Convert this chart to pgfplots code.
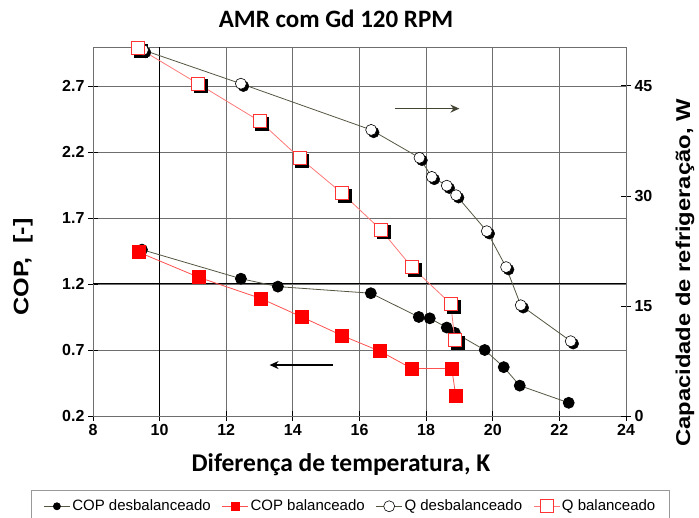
\documentclass[border=0pt]{standalone}
\usepackage{fontspec}
\setmainfont{Liberation Sans}
\newfontfamily\calibri{Carlito}
\usepackage{pgfplots}
\pgfplotsset{compat=1.18}
\usetikzlibrary{arrows.meta}
\definecolor{olivegray}{RGB}{85,85,65}
\definecolor{redline}{RGB}{255,80,80}
\definecolor{lightred}{RGB}{255,120,120}
\definecolor{redmark}{RGB}{255,0,0}
\definecolor{gridgray}{RGB}{110,110,110}

\pgfplotstableread{
x y
9.47 1.46
12.44 1.24
13.55 1.18
16.34 1.13
17.78 0.95
18.11 0.94
18.62 0.87
18.86 0.83
19.76 0.70
20.33 0.57
20.81 0.43
22.28 0.30
}\copdes
\pgfplotstableread{
x y
9.38 1.44
11.18 1.25
13.04 1.09
14.27 0.95
15.47 0.81
16.62 0.69
17.57 0.56
18.77 0.56
18.89 0.35
}\copbal
\pgfplotstableread{
x y
9.50 49.9
12.44 45.3
16.35 39.0
17.80 35.2
18.17 32.6
18.62 31.4
18.90 30.1
19.82 25.2
20.40 20.3
20.84 15.1
22.34 10.2
}\qdes
\pgfplotstableread{
x y
9.35 50.2
11.15 45.3
13.00 40.2
14.20 35.2
15.47 30.4
16.64 25.4
17.57 20.3
18.74 15.3
18.86 10.4
}\qbal

\pgfplotsset{
  copdstyle/.style={olivegray, line width=0.8pt, mark=*, mark size=5.5pt, mark options={fill=black, draw=black}},
  copbstyle/.style={redline, line width=0.8pt, mark=square*, mark size=6.5pt, mark options={fill=redmark, draw=redmark}},
  qdstyle/.style={olivegray, line width=0.8pt, mark=*, mark size=5.5pt, mark options={fill=white, draw=black, line width=0.6pt}},
  qbstyle/.style={lightred, line width=0.8pt, mark=square*, mark size=6.5pt, mark options={fill=white, draw=redmark!80, line width=0.6pt}},
}

\begin{document}
\begin{tikzpicture}[x=1pt,y=1pt]
\useasboundingbox (0,0) rectangle (699,517);
\begin{axis}[
  at={(93pt,101pt)}, anchor=south west,
  width=533pt, height=369pt, scale only axis,
  xmin=8, xmax=24, ymin=0.2, ymax=2.995,
  xtick={8,10,...,24}, ytick={0.2,0.7,1.2,1.7,2.2,2.7},
  grid=major, grid style={draw=gridgray, line width=0.8pt},
  axis line style={draw=gridgray, line width=0.8pt},
  tick style={black, line width=0.8pt}, tick align=center, major tick length=10pt,
  xtick pos=bottom, ytick pos=left,
  ticklabel style={font=\bfseries\fontsize{16}{16}\selectfont},
  /pgf/number format/assume math mode=true,
  yticklabel style={/pgf/number format/.cd, fixed, fixed zerofill, precision=1},
  clip=false,
]
\draw[black, line width=1pt] (axis cs:10,0.2) -- (axis cs:10,2.995);
\draw[black, line width=1pt] (axis cs:8,1.2) -- (axis cs:24,1.2);
\addplot[copdstyle] table[x=x,y=y] {\copdes};
\addplot[copbstyle] table[x=x,y=y] {\copbal};
\draw[black, line width=1.3pt, -{Stealth[length=9pt,width=8pt]}] (axis cs:15.2,0.586) -- (axis cs:13.3,0.586);
\end{axis}
\begin{axis}[
  at={(93pt,101pt)}, anchor=south west,
  width=533pt, height=369pt, scale only axis,
  xmin=8, xmax=24, ymin=0, ymax=50.3,
  axis x line=none, axis y line*=right,
  ytick={0,15,30,45},
  axis line style={draw=gridgray, line width=0.8pt},
  tick style={black, line width=0.8pt}, tick align=center, major tick length=10pt,
  ticklabel style={font=\bfseries\fontsize{16}{16}\selectfont},
  /pgf/number format/assume math mode=true,
  clip=false,
  legend columns=4,
  legend style={at={(0.483,-0.2)}, anchor=north, draw=gray!80, line width=0.6pt,
    font=\fontsize{15}{16}\selectfont, inner ysep=8pt, inner xsep=12pt,
    /tikz/every even column/.append style={column sep=9pt}},
  legend image code/.code={\draw[mark repeat=2,mark phase=2,#1] plot coordinates {(0pt,0pt)(13pt,0pt)(26pt,0pt)};},
]
\addlegendimage{copdstyle, mark size=3.5pt}
\addlegendentry{COP desbalanceado}
\addlegendimage{copbstyle, mark size=4pt}
\addlegendentry{COP balanceado}
\addplot[only marks, mark=*, mark size=5.5pt, mark options={fill=black, draw=black, xshift=2.5pt, yshift=-2.5pt}, forget plot] table[x=x,y=y] {\qdes};
\addplot[only marks, mark=square*, mark size=6.5pt, mark options={fill=black, draw=black, xshift=2.5pt, yshift=-2.5pt}, forget plot] table[x=x,y=y] {\qbal};
\addplot[qdstyle] table[x=x,y=y] {\qdes};
\addlegendentry{Q desbalanceado}
\addplot[qbstyle] table[x=x,y=y] {\qbal};
\addlegendentry{Q balanceado}
\draw[olivegray!80!black, line width=1.3pt, -{Stealth[length=9pt,width=8pt]}] (axis cs:17.06,41.9) -- (axis cs:19.0,41.9);
\end{axis}
\node[font=\calibri\bfseries\fontsize{25}{25}\selectfont] at (336,498) {AMR com Gd 120 RPM};
\node[font=\calibri\bfseries\fontsize{25.5}{25}\selectfont] at (341,52) {Diferença de temperatura, K};
\node[font=\bfseries\fontsize{21}{21}\selectfont, rotate=90] at (23,250) {\scalebox{1.2}[1]{COP,\ \ [-]}};
\node[font=\bfseries\fontsize{20}{20}\selectfont, rotate=90] at (685,244) {\scalebox{1.19}[1]{Capacidade de refrigeração, W}};
\end{tikzpicture}
\end{document}
